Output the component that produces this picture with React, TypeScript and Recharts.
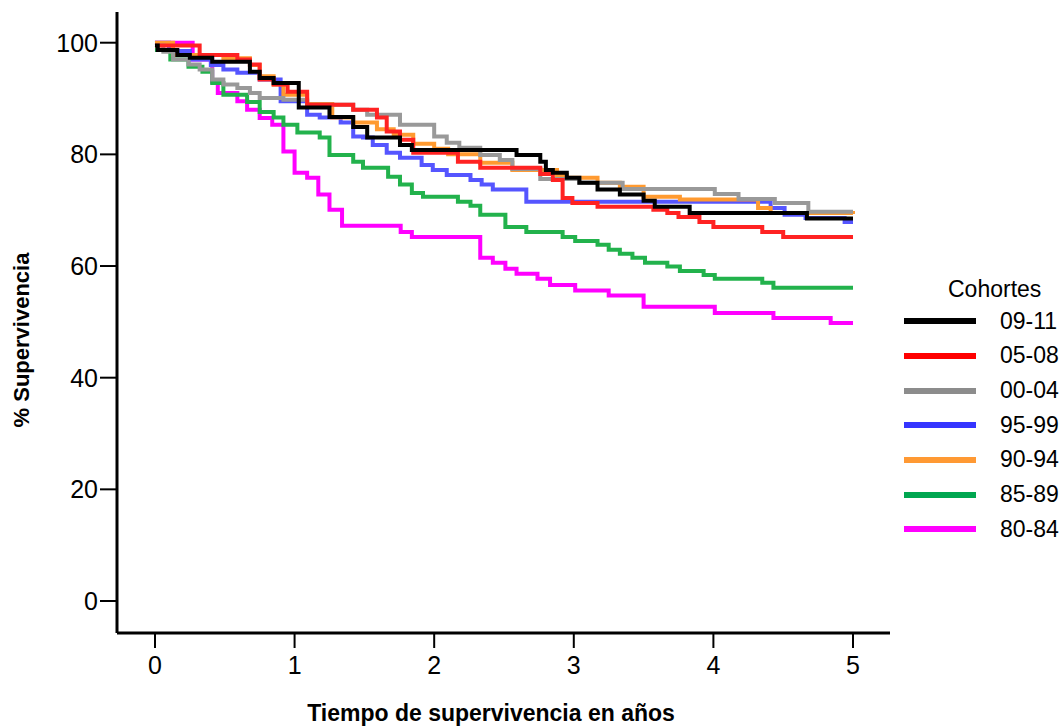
import { LineChart, Line, XAxis, YAxis, Legend, Label } from 'recharts';

// Kaplan-Meier survival (%) by cohort: [years, survival]
const c0911 = [
  [0, 99.5], [0.02, 98.7], [0.16, 97.8], [0.25, 97.3], [0.41, 96.6], [0.68, 94.8], [0.75, 93.7],
  [0.85, 92.8], [1.03, 88.4], [1.25, 86.7], [1.42, 84.9], [1.52, 83.0], [1.755, 81.7], [1.84, 80.8],
  [2.59, 79.9], [2.76, 78.7], [2.8, 77.2], [2.85, 76.7], [2.95, 75.8], [3.04, 74.9], [3.17, 73.7],
  [3.33, 72.8], [3.5, 71.7], [3.58, 70.6], [3.83, 69.5], [4.67, 68.5], [5, 68.5],
];
const c0508 = [
  [0, 99.5], [0.32, 97.8], [0.59, 97.0], [0.68, 96.1], [0.75, 93.4], [0.85, 92.5], [0.95, 91.2],
  [1.09, 88.9], [1.42, 88.0], [1.59, 86.6], [1.66, 84.1], [1.755, 82.6], [1.85, 80.3], [2.17, 78.7],
  [2.33, 77.6], [2.76, 76.5], [2.85, 75.4], [2.92, 72.2], [2.99, 71.3], [3.17, 70.6], [3.57, 70.1],
  [3.67, 69.5], [3.75, 68.8], [3.9, 67.9], [4.0, 67.0], [4.35, 66.1], [4.5, 65.2], [5, 65.2],
];
const c0004 = [
  [0, 99.5], [0.06, 98.4], [0.13, 97.0], [0.24, 96.1], [0.32, 95.2], [0.41, 93.4], [0.49, 92.5],
  [0.59, 91.9], [0.68, 91.0], [0.75, 90.1], [0.92, 89.8], [1.09, 88.9], [1.42, 88.0], [1.52, 87.1],
  [1.755, 85.3], [2.0, 83.2], [2.09, 82.1], [2.18, 81.2], [2.33, 79.9], [2.47, 79.0], [2.56, 77.4],
  [2.76, 75.6], [3.04, 74.9], [3.35, 73.8], [4.01, 72.9], [4.18, 72.0], [4.44, 71.3], [4.68, 69.7],
  [5, 69.7],
];
const c9599 = [
  [0, 100], [0.1, 98.5], [0.25, 97.0], [0.4, 96.0], [0.49, 95.2], [0.59, 94.6], [0.75, 93.4],
  [0.9, 89.5], [1.09, 87.1], [1.18, 86.6], [1.33, 85.7], [1.42, 83.2], [1.49, 83.0], [1.56, 81.7],
  [1.66, 80.3], [1.755, 79.4], [1.91, 78.1], [1.99, 77.2], [2.09, 76.3], [2.26, 75.4], [2.34, 74.6],
  [2.42, 73.7], [2.66, 71.5], [4.41, 70.4], [4.51, 69.2], [4.66, 68.6], [4.94, 67.9], [5, 67.9],
];
const c9094 = [
  [0, 100], [0.13, 97.8], [0.49, 97.2], [0.68, 96.0], [0.75, 94.0], [0.85, 92.5], [0.92, 90.7],
  [1.09, 89.0], [1.27, 86.6], [1.42, 85.7], [1.59, 84.5], [1.71, 83.5], [1.85, 81.9], [2.0, 81.0],
  [2.1, 80.0], [2.33, 78.5], [2.56, 77.2], [2.88, 76.3], [2.95, 75.8], [3.17, 74.9], [3.33, 74.2],
  [3.5, 72.4], [3.76, 71.9], [4.32, 70.4], [4.41, 69.5], [5, 69.3],
];
const c8589 = [
  [0, 98.7], [0.11, 97.0], [0.24, 95.7], [0.34, 94.8], [0.41, 92.8], [0.49, 90.7], [0.66, 89.4],
  [0.75, 87.6], [0.85, 86.6], [0.92, 85.3], [1.02, 83.9], [1.18, 83.0], [1.25, 79.9], [1.42, 78.7],
  [1.49, 77.6], [1.67, 76.0], [1.755, 74.6], [1.84, 73.1], [1.92, 72.4], [2.17, 71.5], [2.26, 70.8],
  [2.33, 69.2], [2.51, 67.0], [2.66, 66.1], [2.92, 65.2], [3.01, 64.5], [3.17, 63.8], [3.25, 62.9],
  [3.33, 62.2], [3.42, 61.5], [3.51, 60.6], [3.67, 59.9], [3.76, 59.1], [3.93, 58.4], [4.01, 57.7],
  [4.35, 57.0], [4.43, 56.1], [5, 56.1],
];
const c8084 = [
  [0, 100], [0.27, 97.0], [0.41, 93.0], [0.45, 91.0], [0.59, 89.5], [0.66, 88.0], [0.75, 86.5],
  [0.84, 85.3], [0.92, 80.5], [1.0, 76.7], [1.09, 75.8], [1.17, 72.8], [1.25, 70.1], [1.34, 67.2],
  [1.76, 66.1], [1.84, 65.2], [2.33, 61.5], [2.42, 60.6], [2.51, 59.5], [2.59, 58.6], [2.74, 57.7],
  [2.83, 56.6], [3.01, 55.6], [3.25, 54.7], [3.5, 52.7], [4.01, 51.6], [4.43, 50.7], [4.84, 49.8],
  [5, 49.8],
];

const xTicks = [0, 1, 2, 3, 4, 5];
const yTicks = [0, 20, 40, 60, 80, 100];

// legend order (top to bottom)
const cohorts = [
  { name: '09-11', points: c0911, color: '#000000', key: '#000000' },
  { name: '05-08', points: c0508, color: '#ff2222', key: '#ff0000' },
  { name: '00-04', points: c0004, color: '#999999', key: '#8c8c8c' },
  { name: '95-99', points: c9599, color: '#5555ff', key: '#3535ff' },
  { name: '90-94', points: c9094, color: '#ff9a30', key: '#ff9933' },
  { name: '85-89', points: c8589, color: '#22b24c', key: '#00a650' },
  { name: '80-84', points: c8084, color: '#ff00ff', key: '#ff00ff' },
];

// draw order: bottom to top
const drawOrder = ['80-84', '85-89', '95-99', '90-94', '00-04', '05-08', '09-11'];

function CohortLegend() {
  return (
    <div style={{ fontSize: 23, color: '#000' }}>
      <div style={{ height: 30, lineHeight: '30px', paddingLeft: 52 }}>Cohortes</div>
      {cohorts.map((c) => (
        <div key={c.name} style={{ height: 34.67, display: 'flex', alignItems: 'center' }}>
          <span style={{ display: 'inline-block', width: 72, height: 6, marginLeft: 8, background: c.key }} />
          <span style={{ marginLeft: 24 }}>{c.name}</span>
        </div>
      ))}
    </div>
  );
}

export default function App() {
  return (
    <div
      style={{
        position: 'absolute',
        left: 0,
        top: 0,
        width: 1064,
        height: 728,
        background: '#fff',
        fontFamily: '"Liberation Sans", Arial, sans-serif',
      }}
    >
      <LineChart width={1064} height={728} margin={{ top: 12, right: 174, bottom: 0, left: 0 }}>
        <XAxis
          type="number"
          dataKey="t"
          domain={[-0.272, 5.265]}
          ticks={xTicks}
          allowDataOverflow
          height={95}
          tickSize={15}
          tickMargin={8}
          axisLine={{ stroke: '#000', strokeWidth: 3 }}
          tickLine={{ stroke: '#000', strokeWidth: 2 }}
          tick={{ fill: '#000', fontSize: 25 }}
        >
          <Label
            content={() => (
              <text x={491} y={721} textAnchor="middle" fontSize={23} fontWeight="bold" fill="#000">
                Tiempo de supervivencia en años
              </text>
            )}
          />
        </XAxis>
        <YAxis
          type="number"
          domain={[-5.73, 105.5]}
          ticks={yTicks}
          allowDataOverflow
          width={117}
          tickSize={17}
          tickMargin={2}
          axisLine={{ stroke: '#000', strokeWidth: 3 }}
          tickLine={{ stroke: '#000', strokeWidth: 2 }}
          tick={{ fill: '#000', fontSize: 25 }}
        >
          <Label
            content={() => (
              <text
                x={21}
                y={340}
                transform="rotate(-90 21 340)"
                textAnchor="middle"
                dominantBaseline="central"
                fontSize={22}
                fontWeight="bold"
                fill="#000"
              >
                % Supervivencia
              </text>
            )}
          />
        </YAxis>
        <Legend
          layout="vertical"
          align="center"
          verticalAlign="middle"
          wrapperStyle={{ left: 896, top: 274, width: 168, height: 280 }}
          content={() => <CohortLegend />}
        />
        {drawOrder.map((name) => {
          const c = cohorts.find((k) => k.name === name)!;
          return (
            <Line
              key={c.name}
              name={c.name}
              data={c.points.map(([t, v]) => ({ t, v }))}
              dataKey="v"
              type="stepAfter"
              stroke={c.color}
              strokeWidth={4}
              dot={false}
              activeDot={false}
              isAnimationActive={false}
            />
          );
        })}
      </LineChart>
    </div>
  );
}
